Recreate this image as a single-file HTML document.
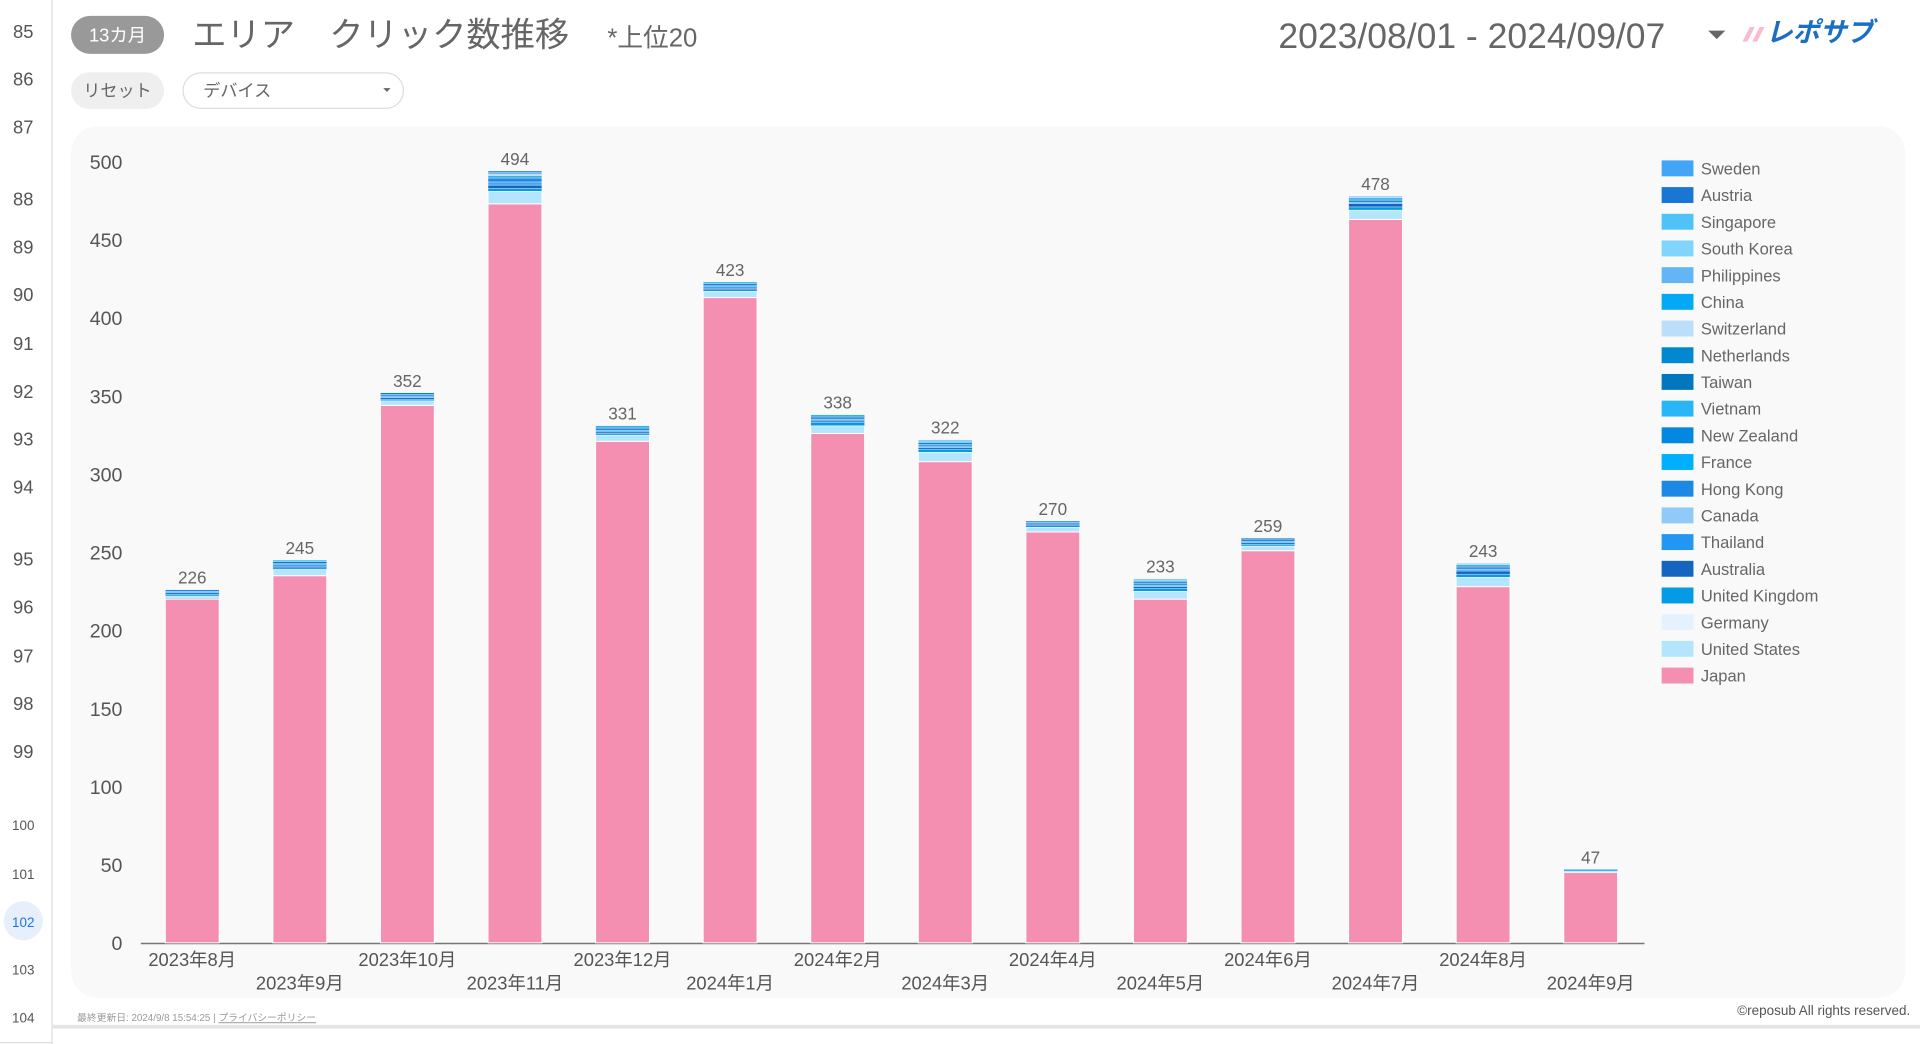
<!DOCTYPE html>
<html><head><meta charset="utf-8"><style>
html,body{margin:0;padding:0;background:#fff;width:1920px;height:1044px;overflow:hidden}
svg{display:block}
text{font-family:"Liberation Sans","Noto Sans CJK JP",sans-serif}
</style></head><body>
<svg id="s" width="1920" height="1044" viewBox="0 0 1568 852.6" preserveAspectRatio="none" xmlns="http://www.w3.org/2000/svg">
<rect x="0" y="0" width="1568" height="853" fill="#fff"/>
<line x1="42.5" y1="0" x2="42.5" y2="853" stroke="#ddd" stroke-width="1"/>
<line x1="0" y1="851.5" x2="42.5" y2="851.5" stroke="#ddd"/>
<rect x="42.5" y="837" width="1526" height="3" fill="#e4e4e4"/>
<circle cx="19" cy="752" r="16" fill="#e8effc"/>
<g id="rows" font-size="14" fill="#555" text-anchor="middle"></g>
<rect x="58" y="103" width="1498" height="712" rx="22" fill="#f9f9f9"/>
<rect x="58" y="13" width="76" height="31" rx="15.5" fill="#999"/>
<text x="96" y="34" font-size="15" fill="#fff" text-anchor="middle">13カ月</text>
<text x="157" y="38" font-size="28" fill="#666">エリア　クリック数推移</text>
<text x="496" y="38" font-size="21" fill="#666">*上位20</text>
<rect x="58" y="59" width="76" height="30" rx="15" fill="#efefef"/>
<text x="96" y="79" font-size="14" fill="#666" text-anchor="middle">リセット</text>
<rect x="149.5" y="59.5" width="180" height="29" rx="14.5" fill="#fff" stroke="#ddd"/>
<text x="166" y="79" font-size="14" fill="#666">デバイス</text>
<path d="M313 72 L319 72 L316 75 Z" fill="#666"/>
<text x="1360" y="39" font-size="29" fill="#666" text-anchor="end">2023/08/01 - 2024/09/07</text>
<path d="M1395 25 L1409 25 L1402 32 Z" fill="#666"/>
<path d="M1423 34 L1429 22 L1433 22 L1427 34 Z M1431 34 L1437 22 L1441 22 L1435 34Z" fill="#f7bcd0"/>
<text x="1442" y="34" font-size="22" font-weight="bold" font-style="italic" fill="#1a6fc4">レポサブ</text>
<g id="chart"></g>
<text x="63" y="834" font-size="8" fill="#999">最終更新日: 2024/9/8 15:54:25 | <tspan text-decoration="underline">プライバシーポリシー</tspan></text>
<text x="1560" y="829" font-size="11" fill="#555" text-anchor="end">©reposub All rights reserved.</text>
</svg>
<script>
const NS="http://www.w3.org/2000/svg";
function el(p,t,a,txt){const e=document.createElementNS(NS,t);for(const k in a)e.setAttribute(k,a[k]);if(txt!=null)e.textContent=txt;p.appendChild(e);return e;}
const rows=document.getElementById('rows');
[[85,26],[86,65],[87,104],[88,163],[89,202],[90,241],[91,281],[92,320],[93,359],[94,398],[95,457],[96,496],[97,536],[98,575],[99,614],[100,673],[101,713],[102,752],[103,791],[104,830]].forEach(([n,y])=>{
 el(rows,'text',{x:19,y:y+5,'font-size':n>=100?11:15,fill:n==102?'#1a73e8':'#555'},n);
});
const c=document.getElementById('chart');
const y0=770,k=638/500;
for(let v=0;v<=500;v+=50){el(c,'text',{x:100,y:y0-v*k+6,'font-size':16,fill:'#555','text-anchor':'end'},v);}
el(c,'line',{x1:115,y1:y0+0.5,x2:1343,y2:y0+0.5,stroke:'#777','stroke-width':1.2});
const tot=[226,245,352,494,331,423,338,322,270,233,259,478,243,47];
const jp=[220,235,344,473,321,413,326,308,263,220,251,463,228,45];
const labels=['2023年8月','2023年9月','2023年10月','2023年11月','2023年12月','2024年1月','2024年2月','2024年3月','2024年4月','2024年5月','2024年6月','2024年7月','2024年8月','2024年9月'];
const stripes=['#039be5','#1565c0','#42a5f5','#1e88e5','#0277bd','#29b6f6','#90caf9','#64b5f6','#1976d2','#81d4fa'];
tot.forEach((t,i)=>{
 const cx=157+i*87.85,x=cx-22,w=44;
 let cur=0;
 function seg(v,col){const yT=y0-(cur+v)*k,h=v*k;el(c,'rect',{x:x,y:yT,width:w,height:h,fill:col,stroke:'#fff','stroke-width':h>3?0.8:0.3});cur+=v;}
 seg(jp[i],'#f48fb1');
 let r=t-jp[i];
 let us=Math.max(1,Math.round(r*0.4));seg(us,'#b3e5fc');r-=us;
 let j=0;while(r>0){const v=Math.min(r,r>6?2:1);seg(v,stripes[j%stripes.length]);r-=v;j++;}
 el(c,'text',{x:cx,y:y0-t*k-5,'font-size':14,fill:'#666','text-anchor':'middle'},t);
 el(c,'text',{x:cx,y:i%2?808:789,'font-size':15,fill:'#555','text-anchor':'middle'},labels[i]);
});
const leg=[['Sweden','#42a5f5'],['Austria','#1976d2'],['Singapore','#4fc3f7'],['South Korea','#81d4fa'],['Philippines','#64b5f6'],['China','#03a9f4'],['Switzerland','#bbdefb'],['Netherlands','#0288d1'],['Taiwan','#0277bd'],['Vietnam','#29b6f6'],['New Zealand','#0288e1'],['France','#00b0ff'],['Hong Kong','#1e88e5'],['Canada','#90caf9'],['Thailand','#2196f3'],['Australia','#1565c0'],['United Kingdom','#039be5'],['Germany','#e3f2fd'],['United States','#b3e5fc'],['Japan','#f48fb1']];
leg.forEach(([n,col],i)=>{const y=131+i*21.8;el(c,'rect',{x:1357,y:y,width:26,height:13,fill:col});el(c,'text',{x:1389,y:y+11.5,'font-size':13.5,fill:'#666'},n);});
</script>
</body></html>
